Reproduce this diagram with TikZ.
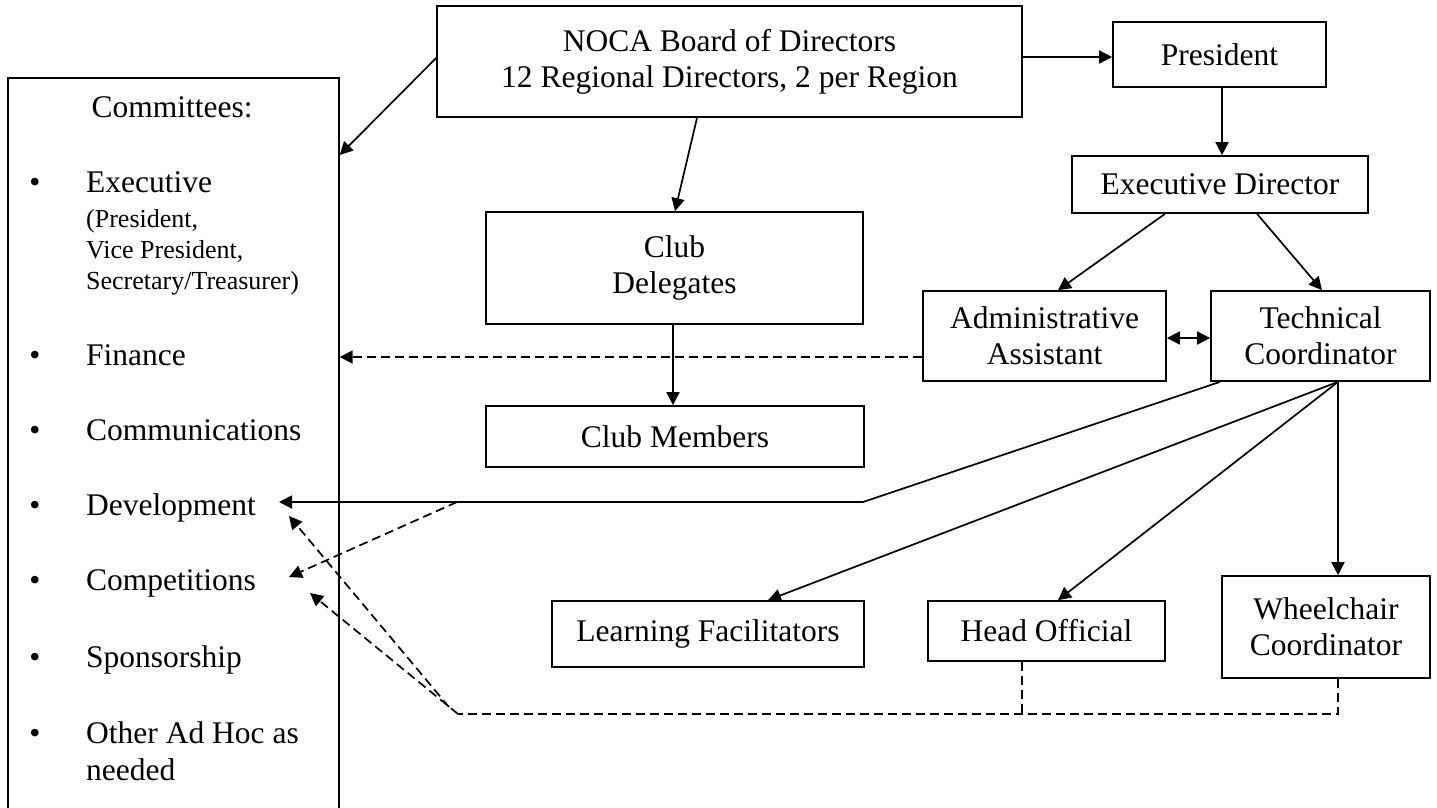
\documentclass[tikz,border=0pt]{standalone}
\usepackage{fontspec}
\setmainfont{Liberation Serif}
\usetikzlibrary{arrows.meta}
\begin{document}
\begin{tikzpicture}[x=1pt,y=-1pt,
  box/.style={draw, line width=1.7pt, inner sep=0pt, align=center, font=\fontsize{31.5}{36}\selectfont},
  lbl/.style={inner sep=0pt, font=\fontsize{31.5}{36}\selectfont},
  sml/.style={inner sep=0pt, font=\fontsize{26}{31}\selectfont},
  conn/.style={line width=1.7pt},
  arr/.style={conn, -{Triangle[length=13pt,width=13pt]}},
  dline/.style={conn, dash pattern=on 9pt off 5pt},
  darr/.style={arr, dash pattern=on 9pt off 5pt},
  biarr/.style={conn, {Triangle[length=13pt,width=13pt]}-{Triangle[length=13pt,width=13pt]}}
]
\path[use as bounding box, fill=white] (0,0) rectangle (1437,807);
\clip (0,0) rectangle (1437,807);

% boxes
\node[box, minimum width=331pt, minimum height=760pt, anchor=north west] (com) at (7,77) {};
\node[box, minimum width=585pt, minimum height=111pt] (board) at (729.5,61.5) {NOCA Board of Directors\\12 Regional Directors, 2 per Region};
\node[box, minimum width=213pt, minimum height=65pt] (pres) at (1219.5,54.5) {President};
\node[box, minimum width=296pt, minimum height=57pt] (ed) at (1220,184.5) {Executive Director};
\node[box, minimum width=377pt, minimum height=112pt] (del) at (674.5,268) {Club\\Delegates};
\node[box, minimum width=378pt, minimum height=61pt] (mem) at (675,436.5) {Club Members};
\node[box, minimum width=243pt, minimum height=90pt] (adm) at (1044.5,336) {Administrative\\Assistant};
\node[box, minimum width=219pt, minimum height=90pt] (tc) at (1320.5,336) {Technical\\Coordinator};
\node[box, minimum width=312pt, minimum height=66pt] (lf) at (708,634) {Learning Facilitators};
\node[box, minimum width=237pt, minimum height=60pt] (ho) at (1046.5,631) {Head Official};
\node[box, minimum width=208pt, minimum height=102pt] (wc) at (1326,627) {Wheelchair\\Coordinator};

% committee list
\node[lbl, anchor=base] (comtitle) at (172,117) {Committees:};
\node[lbl, anchor=base] (b1) at (35,192) {•};
\node[lbl, anchor=base west] (exe) at (86,192) {Executive};
\node[sml, anchor=base west] (exe1) at (86,227) {(President,};
\node[sml, anchor=base west] (exe2) at (86,258) {Vice President,};
\node[sml, anchor=base west] (exe3) at (86,289) {Secretary/Treasurer)};
\node[lbl, anchor=base] (b2) at (35,365) {•};
\node[lbl, anchor=base west] (fin) at (86,365) {Finance};
\node[lbl, anchor=base] (b3) at (35,440) {•};
\node[lbl, anchor=base west] (comm) at (86,440) {Communications};
\node[lbl, anchor=base] (b4) at (35,515) {•};
\node[lbl, anchor=base west] (dev) at (86,515) {Development};
\node[lbl, anchor=base] (b5) at (35,590) {•};
\node[lbl, anchor=base west] (comp) at (86,590) {Competitions};
\node[lbl, anchor=base] (b6) at (35,667) {•};
\node[lbl, anchor=base west] (spon) at (86,667) {Sponsorship};
\node[lbl, anchor=base] (b7) at (35,743) {•};
\node[lbl, anchor=base west] (oth) at (86,743) {Other Ad Hoc as};
\node[lbl, anchor=base west] (oth2) at (86,780) {needed};

% free-end coordinates
\coordinate (devtip) at (279,502);
\coordinate (devtip2) at (289,516);
\coordinate (comptip) at (289,577);
\coordinate (comptip2) at (310,593);
\coordinate (kink) at (863,502);
\coordinate (branch) at (457,502);
\coordinate (corner) at (458,714);
\coordinate (corner2) at (449,707);
\coordinate (hojoin) at (1022,714);

% connectors
\draw[arr] (board.west |- 0,58) -- (com.east |- 0,155);
\draw[arr] (board.east |- 0,57) -- (pres.west |- 0,57);
\draw[arr] (board.south -| 697,0) -- (del.north -| 675,0);
\draw[arr] (pres.south -| 1222,0) -- (ed.north -| 1222,0);
\draw[arr] (ed.south -| 1165,0) -- (adm.north -| 1058,0);
\draw[arr] (ed.south -| 1257,0) -- (tc.north -| 1322,0);
\draw[arr] (del.south -| 673,0) -- (mem.north -| 673,0);
\draw[biarr] (adm.east |- 0,338) -- (tc.west |- 0,338);
\draw[darr] (adm.west |- 0,357) -- (com.east |- 0,357);
\draw[arr] (tc.south -| 1220,0) -- (kink) -- (devtip);
\draw[darr] (branch) -- (comptip);
\draw[arr] (tc.south -| 1338,0) -- (lf.north -| 768,0);
\draw[arr] (tc.south -| 1338,0) -- (ho.north -| 1058,0);
\draw[arr] (tc.south -| 1338,0) -- (wc.north -| 1338,0);
\draw[dline] (wc.south -| 1338,0) |- (corner);
\draw[dline] (ho.south -| 1022,0) -- (hojoin);
\draw[darr] (corner) -- (comptip2);
\draw[darr] (corner2) -- (devtip2);
\end{tikzpicture}
\end{document}
